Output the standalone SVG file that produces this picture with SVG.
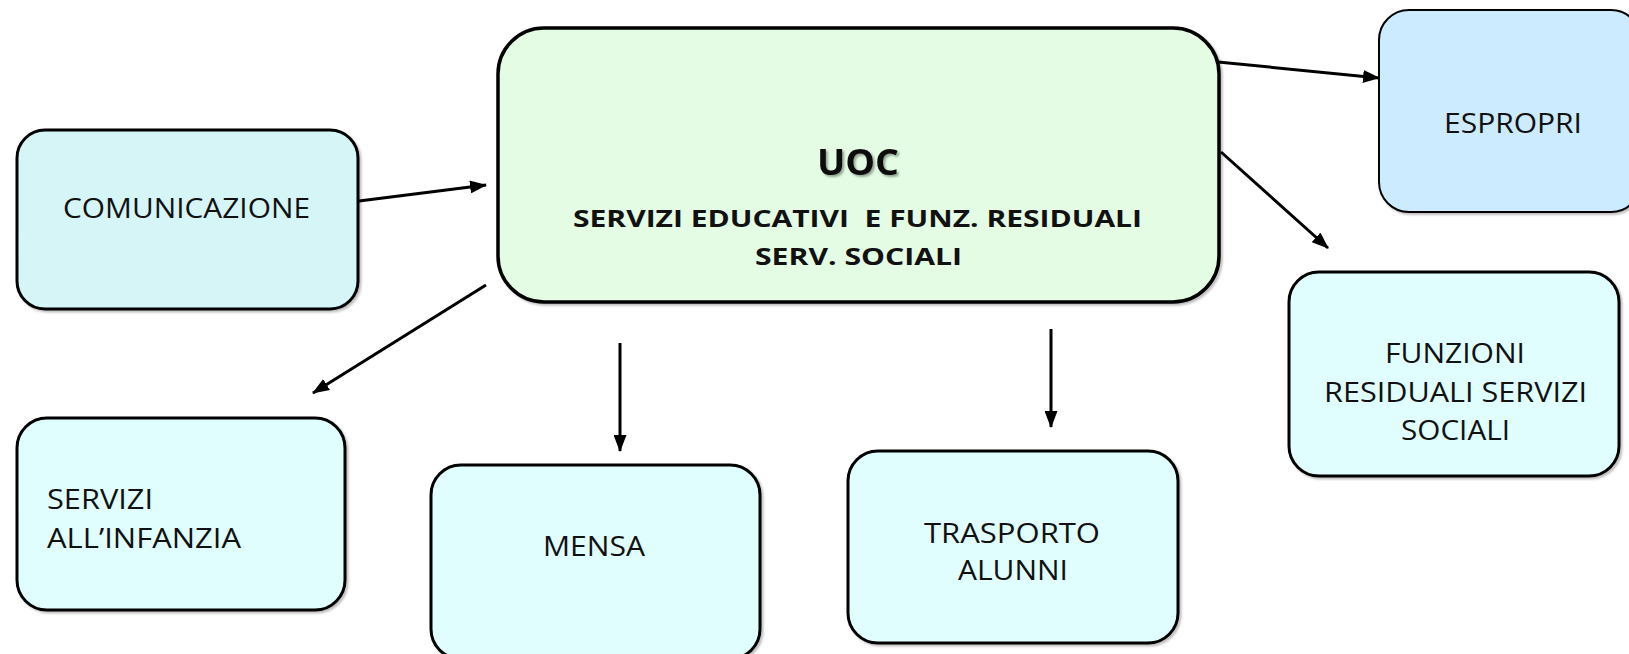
<svg xmlns="http://www.w3.org/2000/svg" width="1629" height="654" viewBox="0 0 1629 654">
<style>
.box{stroke:#000;stroke-width:3;filter:url(#shadow)}
.t{font-family:"Open Sans","Noto Sans","Liberation Sans",sans-serif;font-size:28px;fill:#111}
.b{font-family:"Open Sans","Noto Sans","Liberation Sans",sans-serif;font-weight:bold;fill:#111}
.c{stroke:#000;stroke-width:3;fill:none;marker-end:url(#ah)}
</style>
<defs>
<marker id="ah" markerUnits="userSpaceOnUse" markerWidth="17" markerHeight="13" refX="16" refY="6.5" orient="auto">
<path d="M0,0 L17,6.5 L0,13 z" fill="#000"/>
</marker>
<filter id="shadow" x="-5%" y="-5%" width="115%" height="115%">
<feDropShadow dx="2" dy="2" stdDeviation="1" flood-color="#000" flood-opacity="0.25"/>
</filter>
<filter id="tshadow" x="-10%" y="-10%" width="130%" height="140%">
<feDropShadow dx="2" dy="2" stdDeviation="0.8" flood-color="#000" flood-opacity="0.35"/>
</filter>
</defs>
<rect width="1629" height="654" fill="#fff"/>
<g id="connectors">
<line class="c" x1="359" y1="201" x2="486" y2="185"/>
<line class="c" x1="1218" y1="62" x2="1379" y2="78"/>
<line class="c" x1="1221" y1="152" x2="1328" y2="248"/>
<line class="c" x1="486" y1="285" x2="313" y2="393"/>
<line class="c" x1="620" y1="343" x2="620" y2="451"/>
<line class="c" x1="1051" y1="329" x2="1051" y2="427"/>
</g>
<g id="uoc">
<rect class="box" x="498" y="28" width="721" height="274" rx="46" fill="#E3FCE3" style="stroke-width:3.5"/>
<text class="b" x="858" y="175" font-size="35" text-anchor="middle" filter="url(#tshadow)" textLength="82" lengthAdjust="spacingAndGlyphs">UOC</text>
<text class="b" x="573" y="227" font-size="24" xml:space="preserve" textLength="569" lengthAdjust="spacingAndGlyphs">SERVIZI EDUCATIVI  E FUNZ. RESIDUALI</text>
<text class="b" x="755" y="265" font-size="24" textLength="207" lengthAdjust="spacingAndGlyphs">SERV. SOCIALI</text>
</g>
<g id="comunicazione">
<rect class="box" x="17" y="130" width="341" height="179" rx="28" fill="#D5F5F7"/>
<text class="t" x="63" y="218" textLength="247" lengthAdjust="spacingAndGlyphs">COMUNICAZIONE</text>
</g>
<g id="espropri">
<rect class="box" x="1379" y="10" width="262" height="202" rx="30" fill="#CCEBFE" style="stroke-width:2"/>
<text class="t" x="1444" y="133" textLength="138" lengthAdjust="spacingAndGlyphs">ESPROPRI</text>
</g>
<g id="funzioni">
<rect class="box" x="1289" y="272" width="330" height="204" rx="30" fill="#E0FEFE"/>
<text class="t" x="1385" y="363" textLength="140" lengthAdjust="spacingAndGlyphs">FUNZIONI</text>
<text class="t" x="1324" y="402" textLength="263" lengthAdjust="spacingAndGlyphs">RESIDUALI SERVIZI</text>
<text class="t" x="1401" y="440" textLength="109" lengthAdjust="spacingAndGlyphs">SOCIALI</text>
</g>
<g id="servizi-infanzia">
<rect class="box" x="17" y="418" width="328" height="192" rx="30" fill="#E0FEFE"/>
<text class="t" x="47" y="509" textLength="106" lengthAdjust="spacingAndGlyphs">SERVIZI</text>
<text class="t" x="47" y="548" textLength="194" lengthAdjust="spacingAndGlyphs">ALL’INFANZIA</text>
</g>
<g id="mensa">
<rect class="box" x="431" y="465" width="329" height="194" rx="30" fill="#E0FEFE"/>
<text class="t" x="543" y="556" textLength="102" lengthAdjust="spacingAndGlyphs">MENSA</text>
</g>
<g id="trasporto">
<rect class="box" x="848" y="451" width="330" height="192" rx="30" fill="#E0FEFE"/>
<text class="t" x="924" y="543" textLength="176" lengthAdjust="spacingAndGlyphs">TRASPORTO</text>
<text class="t" x="958" y="580" textLength="110" lengthAdjust="spacingAndGlyphs">ALUNNI</text>
</g>
</svg>
